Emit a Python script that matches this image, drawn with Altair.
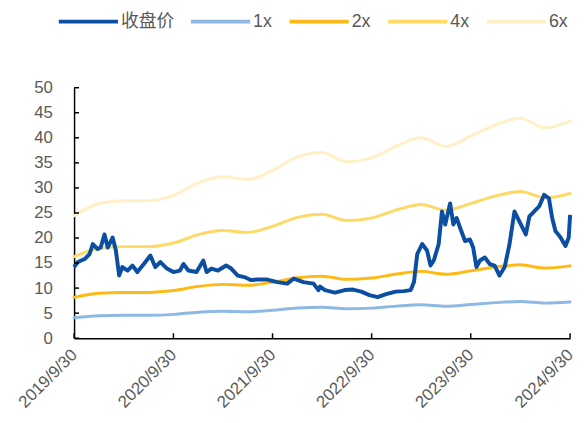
import altair as alt
import pandas as pd

# ---- data ----
close_dates = [
    "2019-09-30", "2019-10-14", "2019-11-08", "2019-11-26", "2019-12-08", "2019-12-26",
    "2020-01-06", "2020-01-20", "2020-02-01", "2020-02-19", "2020-03-02", "2020-03-14",
    "2020-03-26", "2020-04-14", "2020-05-02", "2020-05-20", "2020-06-13", "2020-07-07",
    "2020-07-25", "2020-08-13", "2020-09-06", "2020-09-30", "2020-10-24", "2020-11-06",
    "2020-11-24", "2020-12-24", "2021-01-18", "2021-01-30", "2021-02-17", "2021-03-13",
    "2021-04-12", "2021-05-01", "2021-05-25", "2021-06-18", "2021-07-12", "2021-08-06",
    "2021-09-11", "2021-10-18", "2021-11-23", "2021-12-17", "2022-01-22", "2022-02-28",
    "2022-03-18", "2022-03-24", "2022-04-11", "2022-05-18", "2022-06-23", "2022-07-23",
    "2022-08-23", "2022-09-22", "2022-10-22", "2022-11-22", "2022-12-28", "2023-01-27",
    "2023-02-21", "2023-03-05", "2023-03-17", "2023-04-04", "2023-04-22", "2023-05-05",
    "2023-05-17", "2023-06-04", "2023-06-16", "2023-06-28", "2023-07-16", "2023-07-28",
    "2023-08-09", "2023-08-22", "2023-09-09", "2023-09-27", "2023-10-09", "2023-10-21",
    "2023-11-03", "2023-11-21", "2023-12-09", "2023-12-27", "2024-01-14", "2024-02-02",
    "2024-02-20", "2024-03-09", "2024-03-27", "2024-04-20", "2024-05-03", "2024-05-21",
    "2024-06-08", "2024-06-26", "2024-07-14", "2024-07-26", "2024-08-07", "2024-08-26",
    "2024-09-13", "2024-09-25", "2024-09-30",
]
close_values = [
    14.2, 15.2, 15.8, 16.8, 18.8, 17.8,
    18.1, 20.7, 18.1, 20.1, 17.5, 12.5,
    14.2, 13.5, 14.5, 13.2, 14.8, 16.5,
    14.2, 15.2, 13.9, 13.2, 13.5, 14.8,
    13.5, 13.2, 15.5, 13.2, 13.9, 13.5,
    14.5, 13.9, 12.5, 12.2, 11.6, 11.7,
    11.7, 11.2, 10.9, 11.9, 11.2, 10.9,
    9.6, 10.3, 9.6, 9.1, 9.6, 9.7,
    9.3, 8.6, 8.2, 8.8, 9.3, 9.4,
    9.6, 11.2, 16.8, 18.8, 17.5, 14.5,
    15.5, 18.8, 25.3, 22.7, 26.9, 22.7,
    24.0, 22.0, 19.4, 19.7, 18.1, 14.2,
    15.5, 16.1, 14.8, 14.5, 12.5, 14.2,
    18.8, 25.3, 23.3, 20.7, 24.3, 25.3,
    26.3, 28.6, 27.9, 24.0, 21.4, 20.1,
    18.4, 20.1, 24.6,
]

band_dates = [
    "2019-09-30", "2019-12-31", "2020-03-31", "2020-06-30", "2020-09-30",
    "2020-12-31", "2021-03-31", "2021-06-30", "2021-09-30", "2021-12-31",
    "2022-03-31", "2022-06-30", "2022-09-30", "2022-12-31", "2023-03-31",
    "2023-06-30", "2023-09-30", "2023-12-31", "2024-03-31", "2024-06-30",
    "2024-09-30",
]
base_1x = [
    4.07, 4.48, 4.57, 4.57, 4.75,
    5.17, 5.37, 5.28, 5.58, 6.03,
    6.18, 5.87, 6.00, 6.40, 6.67,
    6.38, 6.72, 7.10, 7.32, 7.00,
    7.22,
]
multiples = [1, 2, 4, 6]

series_names = ["收盘价", "1x", "2x", "4x", "6x"]
series_colors = ["#0B4EA2", "#8DB9E3", "#FFB915", "#FFD966", "#FFF0C8"]

x_ticks = ["2019-09-30", "2020-09-30", "2021-09-30", "2022-09-30", "2023-09-30", "2024-09-30"]
y_ticks = [0, 5, 10, 15, 20, 25, 30, 35, 40, 45, 50]

# ---- tables ----
close_df = pd.DataFrame({"date": close_dates, "value": close_values, "series": "收盘价"})
band_rows = []
for m in multiples:
    for d, b in zip(band_dates, base_1x):
        band_rows.append({"date": d, "value": round(b * m, 3), "series": f"{m}x"})
band_df = pd.DataFrame(band_rows)
xt_df = pd.DataFrame({"date": x_ticks})
yt_df = pd.DataFrame({"value": y_ticks})

FONT = "Liberation Sans, Arial, Noto Sans CJK SC"
GRAY = "#595959"
PLOT_H = 254

def dt(s):
    y, m, d = (int(p) for p in s.split("-"))
    return alt.DateTime(year=y, month=m, date=d, utc=True)

x_scale = alt.Scale(type="utc", domain=[dt(x_ticks[0]), dt(x_ticks[-1])])
y_scale = alt.Scale(domain=[0, 50], nice=False)

x_axis = alt.Axis(
    title=None,
    values=[dt(s) for s in x_ticks],
    labelExpr="utcFormat(datum.value, '%Y/%-m/%-d')",
    labelAngle=-45,
    labelAlign="right",
    labelBaseline="middle",
    labelPadding=14,
    labelFont=FONT,
    labelFontSize=17,
    labelColor=GRAY,
    ticks=False,
    tickSize=0,
    grid=False,
    domainColor="black",
    domainWidth=1.5,
    labelOverlap=False,
    labelBound=False,
    labelFlush=False,
)
y_axis = alt.Axis(
    title=None,
    values=y_ticks,
    labelPadding=22,
    labelFont=FONT,
    labelFontSize=17,
    labelColor=GRAY,
    ticks=False,
    tickSize=0,
    grid=False,
    domainColor="black",
    domainWidth=1.5,
    labelOverlap=False,
)
x_enc = alt.X("date:T", scale=x_scale, axis=x_axis)
y_enc = alt.Y("value:Q", scale=y_scale, axis=y_axis)
color_enc = alt.Color(
    "series:N",
    scale=alt.Scale(domain=series_names, range=series_colors),
    legend=alt.Legend(
        title=None,
        orient="none",
        legendX=-17.5,
        legendY=-99,
        direction="horizontal",
        symbolType="stroke",
        symbolSize=3600,
        symbolStrokeWidth=4,
        labelFont=FONT,
        labelFontSize=18,
        labelColor=GRAY,
        labelOffset=1,
        columnPadding=9,
        padding=0,
    ),
)

bands = alt.Chart(band_df).mark_line(strokeWidth=3, interpolate="monotone", strokeCap="round").encode(
    x=x_enc, y=y_enc, color=color_enc, detail="series:N"
)
close = alt.Chart(close_df).mark_line(strokeWidth=4, strokeJoin="round").encode(
    x=x_enc, y=y_enc, color=color_enc
)
xticks = alt.Chart(xt_df).mark_rule(color="black", strokeWidth=1.5).encode(
    x=x_enc, y=alt.value(PLOT_H), y2=alt.value(PLOT_H - 5)
)
yticks = alt.Chart(yt_df).mark_rule(color="black", strokeWidth=1.5).encode(
    y=y_enc, x=alt.value(0), x2=alt.value(5)
)

chart = (
    alt.layer(bands, close, xticks, yticks)
    .properties(
        width=503,
        height=PLOT_H,
        autosize=alt.AutoSizeParams(type="none"),
        padding={"left": 67, "top": 78, "right": 7, "bottom": 70},
        background="white",
    )
    .configure_view(stroke=None)
)

chart.save("out.html", embed_options={"renderer": "svg", "actions": False})
